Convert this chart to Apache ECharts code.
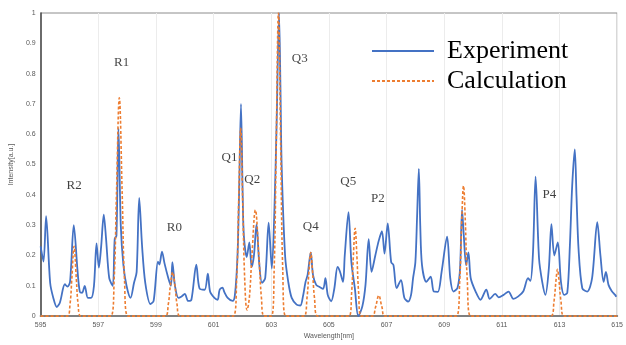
<!DOCTYPE html>
<html>
<head>
<meta charset="utf-8">
<script src="https://cdn.jsdelivr.net/npm/echarts@6/dist/echarts.min.js"></script>
<style>
  html, body { margin: 0; padding: 0; background: #fff; }
  #chart { width: 626px; height: 345px; }
</style>
</head>
<body>
<div id="chart"></div>
<script>
// measured spectrum (blue)
const expWavelength = [
  595.00,595.10,595.19,595.33,595.44,595.56,595.67,595.84,595.93,596.02,
  596.15,596.28,596.36,596.44,596.53,596.64,596.75,596.85,596.94,597.02,
  597.10,597.19,597.27,597.38,597.50,597.57,597.63,597.70,597.78,597.87,
  597.98,598.12,598.24,598.33,598.42,598.52,598.63,598.81,598.92,599.07,
  599.12,599.21,599.30,599.43,599.52,599.57,599.66,599.78,599.89,600.00,
  600.12,600.23,600.40,600.51,600.69,600.80,600.88,601.03,601.14,601.21,
  601.31,601.37,601.49,601.66,601.74,601.83,601.89,601.95,602.01,602.05,
  602.15,602.24,602.32,602.40,602.49,602.58,602.68,602.79,602.91,603.02,
  603.11,603.19,603.27,603.32,603.36,603.48,603.59,603.71,603.88,604.01,
  604.10,604.19,604.26,604.37,604.45,604.56,604.68,604.80,604.88,604.96,
  605.08,605.19,605.30,605.38,605.49,605.55,605.68,605.78,605.90,606.02,
  606.16,606.27,606.38,606.48,606.61,606.73,606.84,606.93,607.04,607.16,
  607.24,607.35,607.50,607.62,607.75,607.85,607.92,608.00,608.06,608.12,
  608.17,608.23,608.38,608.53,608.64,608.78,608.91,609.10,609.21,609.32,
  609.46,609.55,609.62,609.68,609.76,609.84,609.92,610.09,610.26,610.46,
  610.58,610.77,610.89,611.06,611.23,611.40,611.57,611.74,611.91,611.99,
  612.08,612.17,612.29,612.40,612.51,612.63,612.72,612.82,612.94,613.05,
  613.16,613.27,613.36,613.44,613.53,613.59,613.66,613.79,613.96,614.13,
  614.31,614.42,614.53,614.61,614.70,614.81,614.93,614.97
];
const experiment = [
  0.23,0.18,0.33,0.11,0.06,0.03,0.045,0.105,0.097,0.113,
  0.30,0.15,0.08,0.077,0.10,0.06,0.06,0.10,0.24,0.16,
  0.23,0.335,0.255,0.125,0.10,0.255,0.265,0.62,0.30,0.17,
  0.10,0.06,0.11,0.145,0.39,0.23,0.11,0.04,0.05,0.18,
  0.17,0.213,0.173,0.125,0.10,0.178,0.10,0.06,0.065,0.073,
  0.05,0.054,0.17,0.092,0.087,0.14,0.08,0.06,0.054,0.087,
  0.094,0.08,0.06,0.05,0.07,0.20,0.43,0.70,0.395,0.265,
  0.195,0.243,0.162,0.20,0.303,0.178,0.11,0.125,0.308,0.157,
  0.35,0.65,1.0,0.75,0.50,0.20,0.113,0.06,0.038,0.035,
  0.065,0.113,0.135,0.21,0.135,0.103,0.096,0.09,0.125,0.07,
  0.049,0.092,0.162,0.148,0.113,0.20,0.343,0.178,0.092,0.0,
  0.032,0.103,0.254,0.146,0.20,0.249,0.28,0.206,0.306,0.178,
  0.168,0.092,0.119,0.06,0.048,0.07,0.125,0.178,0.33,0.486,
  0.297,0.168,0.113,0.13,0.081,0.08,0.146,0.262,0.125,0.081,
  0.093,0.157,0.351,0.265,0.168,0.21,0.125,0.081,0.054,0.087,
  0.057,0.073,0.062,0.07,0.081,0.057,0.065,0.081,0.125,0.116,
  0.21,0.46,0.19,0.113,0.07,0.157,0.303,0.20,0.243,0.113,
  0.07,0.077,0.233,0.43,0.55,0.395,0.222,0.092,0.081,0.125,
  0.31,0.20,0.113,0.146,0.103,0.083,0.07,0.064
];

// calculated spectrum (orange dashed)
const calcWavelength = [
  595.00,
  595.92,596.02,596.08,596.16,596.24,596.30,596.40,
  597.43,597.55,597.63,597.73,597.83,597.91,598.03,
  599.32,599.43,599.50,599.58,599.66,599.73,599.84,
  601.68,601.80,601.87,601.94,602.01,602.08,602.16,602.24,602.33,602.45,602.57,602.66,602.76,
  603.00,603.10,603.17,603.25,603.33,603.40,603.50,
  604.13,604.24,604.31,604.37,604.43,604.50,604.61,
  605.70,605.79,605.85,605.91,605.97,606.03,606.12,
  606.50,606.62,606.73,606.84,606.95,
  609.42,609.54,609.61,609.67,609.73,609.80,609.92,
  612.70,612.81,612.88,612.93,612.98,613.05,613.16,
  615.00
];
const calculation = [
  0,
  0,0.04,0.12,0.23,0.12,0.04,0,
  0,0.12,0.40,0.72,0.40,0.12,0,
  0,0.04,0.10,0.145,0.10,0.04,0,
  0,0.12,0.38,0.62,0.38,0.12,0.02,0.06,0.20,0.35,0.20,0.06,0,
  0,0.15,0.55,1.0,0.55,0.15,0,
  0,0.06,0.15,0.21,0.15,0.06,0,
  0,0.08,0.20,0.29,0.20,0.08,0,
  0,0.03,0.068,0.03,0,
  0,0.12,0.32,0.43,0.32,0.12,0,
  0,0.05,0.12,0.154,0.12,0.05,0,
  0
];

// band labels
const peakNames = ['R2', 'R1', 'R0', 'Q1', 'Q2', 'Q3', 'Q4', 'Q5', 'P2', 'P4'];
const peakX = [596.16, 597.81, 599.64, 601.55, 602.34, 603.99, 604.37, 605.67, 606.70, 612.65];
const peakY = [0.429, 0.838, 0.292, 0.524, 0.449, 0.848, 0.297, 0.443, 0.389, 0.400];

let expData = expWavelength.map((w, i) => [w, experiment[i]])
let calcData = calcWavelength.map((w, i) => [w, calculation[i]])
let labelData = peakNames.map((n, i) => ({ name: n, value: [peakX[i], peakY[i]] }))

let myChart = echarts.init(document.getElementById('chart'))
let option = {
  animation: false,
  grid: {
    left: 37,
    right: 5,
    top: 13,
    bottom: 23,
    show: true,
    borderColor: '#8c8c8c',
    borderWidth: 1
  },
  legend: {
    data: ['Experiment', 'Calculation'],
    orient: 'vertical',
    left: 366,
    top: 32,
    itemWidth: 62,
    itemHeight: 14,
    itemGap: 2,
    itemStyle: { opacity: 0 },
    textStyle: {
      fontFamily: 'Liberation Serif',
      fontSize: 26,
      color: '#000',
      lineHeight: 28,
      padding: [0, 0, 0, 8]
    }
  },
  xAxis: {
    type: 'value',
    min: 595,
    max: 615,
    interval: 2,
    name: 'Wavelength[nm]',
    nameLocation: 'middle',
    nameGap: 14,
    nameTextStyle: { color: '#595959', fontSize: 7, fontFamily: 'Liberation Sans' },
    axisLine: { show: true, lineStyle: { color: '#7f7f7f', width: 2 } },
    axisTick: { show: false },
    axisLabel: { color: '#595959', fontSize: 7, margin: 5, fontFamily: 'Liberation Sans' },
    splitLine: { show: true, lineStyle: { color: '#ececec', width: 1 } }
  },
  yAxis: {
    type: 'value',
    min: 0,
    max: 1,
    interval: 0.1,
    name: 'Intensity[a.u.]',
    nameLocation: 'middle',
    nameRotate: 90,
    nameGap: 19,
    nameTextStyle: { color: '#595959', fontSize: 7, fontFamily: 'Liberation Sans' },
    axisLine: { show: true, lineStyle: { color: '#404040', width: 1.5 } },
    axisTick: { show: false },
    axisLabel: { color: '#595959', fontSize: 7, margin: 5, fontFamily: 'Liberation Sans' },
    splitLine: { show: false }
  },
  series: [
    {
      name: 'Experiment',
      type: 'line',
      data: expData,
      showSymbol: false,
      symbol: 'none',
      smooth: 0.3,
      z: 3,
      lineStyle: { color: '#4472c4', width: 1.8 },
      itemStyle: { color: '#4472c4' }
    },
    {
      name: 'Calculation',
      type: 'line',
      data: calcData,
      showSymbol: false,
      symbol: 'none',
      smooth: 0.4,
      z: 4,
      lineStyle: { color: '#ed7d31', width: 1.6, type: [3, 2] },
      itemStyle: { color: '#ed7d31' }
    },
    {
      name: 'labels',
      type: 'scatter',
      data: labelData,
      symbolSize: 0,
      silent: true,
      label: {
        show: true,
        position: 'inside',
        formatter: '{b}',
        fontFamily: 'Liberation Serif',
        fontSize: 13,
        color: '#111'
      }
    }
  ]
}
myChart.setOption(option)
</script>
</body>
</html>
